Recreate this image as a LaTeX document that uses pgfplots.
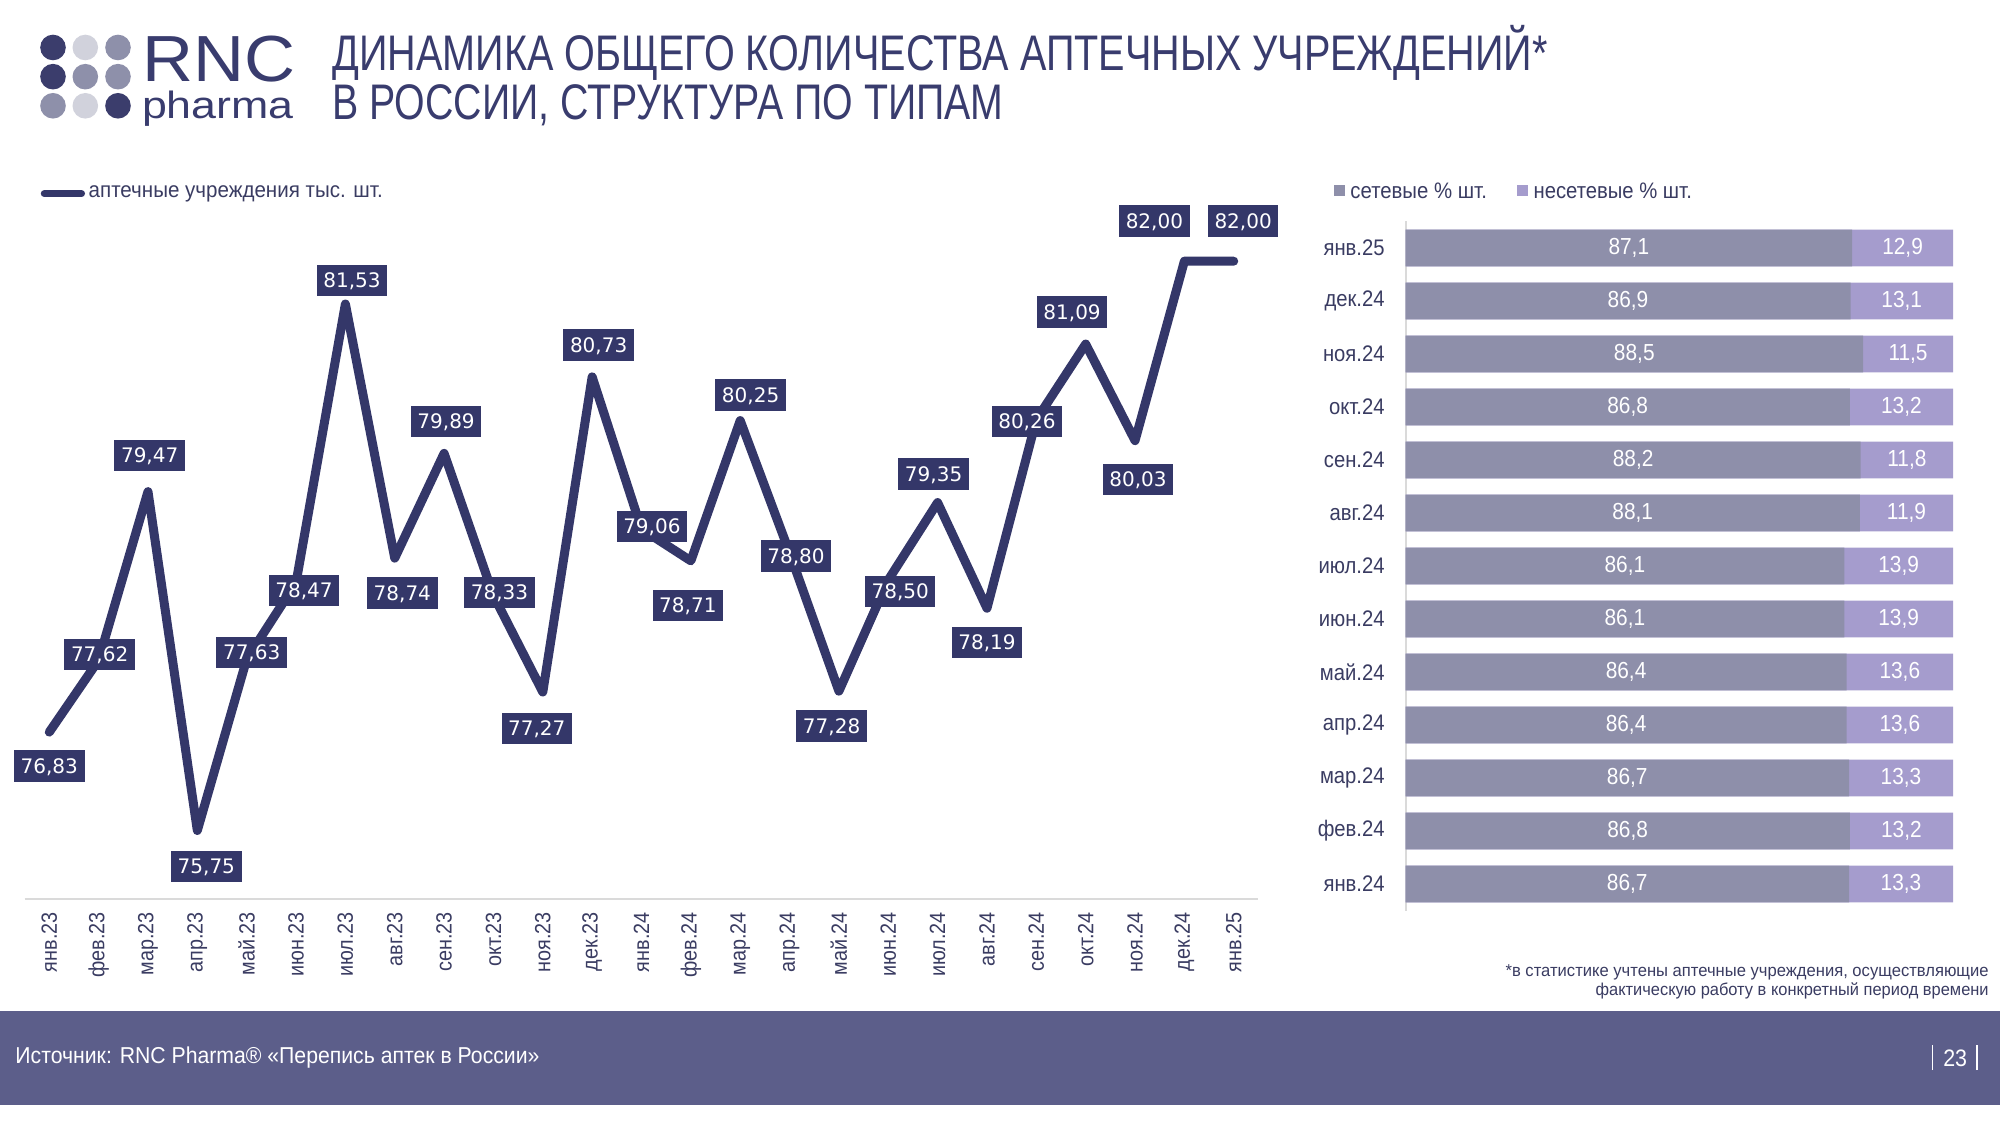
\documentclass[border=0pt]{standalone}
\usepackage{fontspec}
\setmainfont{Liberation Sans}[FakeStretch=0.9]
\newfontfamily\lblfont{DejaVu Sans}
\usepackage{graphicx}
\usepackage{pgfplots}
\pgfplotsset{compat=1.18}
\usepackage{pgfplotstable}

\definecolor{navyline}{HTML}{343769}
\definecolor{titlecol}{HTML}{393C6E}
\definecolor{tickcol}{HTML}{3A3C62}
\definecolor{axisgray}{HTML}{DADADA}
\definecolor{setcol}{HTML}{8E8FAA}
\definecolor{nsetcol}{HTML}{A59CCD}
\definecolor{footcol}{HTML}{5C5E8A}
\definecolor{dotdark}{HTML}{3B3D6C}
\definecolor{dotmid}{HTML}{8E90AA}
\definecolor{dotlight}{HTML}{D1D2DC}

% i, value (thousand), label offsets dx, dy in pt
\pgfplotstableread{
i v dx dy
0 76.83 0 -17
1 77.62 0.5 2.85
2 79.47 0.85 18
3 75.75 4.5 -18
4 77.63 2.5 3.5
5 78.47 4 -4
6 81.53 3.3 11.7
7 78.74 3.8 -17.35
8 79.89 1 16
9 78.33 3 1.5
10 77.27 -3 -18.3
11 80.73 3.25 16
12 79.06 5.2 1.35
13 78.71 -1.5 -22.35
14 80.25 5.2 12.85
15 78.80 3.2 -1.7
16 77.28 -3.65 -17.35
17 78.50 6 -5.7
18 79.35 -2 14.35
19 78.19 0 -17.2
20 80.26 -4.7 -0.8
21 81.09 -6.8 16
22 80.03 1.5 -19.4
23 82.00 -15 20
24 82.00 4.7 20
}\linedata

% i (0 = jan.24 ... 12 = jan.25), chain %, non-chain %
\pgfplotstableread{
i s n
0 86.7 13.3
1 86.8 13.2
2 86.7 13.3
3 86.4 13.6
4 86.4 13.6
5 86.1 13.9
6 86.1 13.9
7 88.1 11.9
8 88.2 11.8
9 86.8 13.2
10 88.5 11.5
11 86.9 13.1
12 87.1 12.9
}\bardata

\begin{document}
\begin{tikzpicture}
\useasboundingbox (0,0) rectangle (1000pt,562.5pt);
\fill[white] (0,0) rectangle (1000pt,562.5pt);

% ---------- logo ----------
\fill[dotdark]  (26.5pt,538.75pt) circle (6.4pt);
\fill[dotlight] (42.65pt,538.75pt) circle (6.4pt);
\fill[dotmid]   (59pt,538.75pt) circle (6.4pt);
\fill[dotdark]  (26.5pt,524.15pt) circle (6.4pt);
\fill[dotmid]   (42.65pt,524.15pt) circle (6.4pt);
\fill[dotmid]   (59pt,524.15pt) circle (6.4pt);
\fill[dotmid]   (26.5pt,509.6pt) circle (6.4pt);
\fill[dotlight] (42.65pt,509.6pt) circle (6.4pt);
\fill[dotdark]  (59pt,509.6pt) circle (6.4pt);
\node[anchor=base west, inner sep=0pt, text=titlecol] at (70.85pt,521.65pt)
  {\resizebox{76.5pt}{\height}{\fontsize{32.6}{32.6}\selectfont RNC}};
\node[anchor=base west, inner sep=0pt, text=titlecol] at (70.85pt,503.3pt)
  {\resizebox{75.8pt}{\height}{\fontsize{19}{19}\selectfont pharma}};

% ---------- title ----------
\node[anchor=base west, inner sep=0pt, text=titlecol] at (166pt,527pt)
  {\resizebox{607.5pt}{\height}{\fontsize{25}{25}\selectfont ДИНАМИКА ОБЩЕГО КОЛИЧЕСТВА АПТЕЧНЫХ УЧРЕЖДЕНИЙ*}};
\node[anchor=base west, inner sep=0pt, text=titlecol] at (166pt,502.5pt)
  {\resizebox{335.5pt}{\height}{\fontsize{25}{25}\selectfont В РОССИИ, СТРУКТУРА ПО ТИПАМ}};

% ---------- line chart ----------
\begin{axis}[
  at={(12.3pt,113.1pt)}, anchor=south west,
  scale only axis, width=616.9pt, height=364.35pt,
  xmin=-0.5, xmax=24.5, ymin=75, ymax=83,
  axis x line=bottom, axis y line=none,
  x axis line style={-, draw=axisgray, line width=1pt},
  xtick={0,...,24},
  xticklabels={янв.23,фев.23,мар.23,апр.23,май.23,июн.23,июл.23,авг.23,сен.23,окт.23,ноя.23,дек.23,янв.24,фев.24,мар.24,апр.24,май.24,июн.24,июл.24,авг.24,сен.24,окт.24,ноя.24,дек.24,янв.25},
  ytick=\empty,
  major tick length=0pt,
  xticklabel style={rotate=90, anchor=east, inner ysep=0pt, inner xsep=6.6pt,
    font=\fontsize{11}{11}\selectfont, text=tickcol},
  clip=false,
]
\addplot[navyline, line width=4.5pt, line join=round, line cap=round,
  point meta=explicit,
  nodes near coords={\pgfmathprintnumber[fixed,fixed zerofill,precision=2,use comma,assume math mode=true]{\pgfplotspointmeta}},
  visualization depends on={\thisrow{dx}\as\dx},
  visualization depends on={\thisrow{dy}\as\dy},
  every node near coord/.style={anchor=center, xshift={\dx*1pt}, yshift={\dy*1pt},
    fill=navyline, text=white, font=\lblfont\fontsize{10}{10}\selectfont,
    inner xsep=3.3pt, inner ysep=4.25pt, text height=7.2pt, text depth=0pt},
] table[x=i, y=v, meta=v] {\linedata};
\end{axis}

% legend of line chart
\draw[navyline, line width=3.65pt, line cap=round] (22.2pt,465.65pt) -- (40.7pt,465.65pt);
\node[anchor=west, inner sep=0pt, text=tickcol] at (44.15pt,465.65pt)
  {\resizebox{147pt}{\height}{\fontsize{11}{11}\selectfont аптечные учреждения тыс. шт.}};

% ---------- bar chart ----------
\begin{axis}[
  at={(702.75pt,107.25pt)}, anchor=south west,
  scale only axis, width=273.75pt, height=344.5pt,
  xmin=30, xmax=100, ymin=-0.5, ymax=12.5,
  axis x line=none, axis y line=left,
  y axis line style={-, draw=axisgray, line width=1pt},
  ytick={0,...,12},
  yticklabels={янв.24,фев.24,мар.24,апр.24,май.24,июн.24,июл.24,авг.24,сен.24,окт.24,ноя.24,дек.24,янв.25},
  xtick=\empty,
  major tick length=0pt,
  yticklabel style={anchor=east, inner sep=0pt, xshift=-10.25pt,
    font=\fontsize{11.25}{11.25}\selectfont, text=tickcol},
]
\addplot[xbar, bar shift=0pt, bar width=18.35pt, fill=nsetcol, draw=none]
  table[x expr={\thisrow{s}+\thisrow{n}}, y=i] {\bardata};
\addplot[xbar, bar shift=0pt, bar width=18.35pt, fill=setcol, draw=none]
  table[x=s, y=i] {\bardata};
\addplot[only marks, mark=*, mark size=0pt, mark options={draw=none, fill=none},
  point meta=explicit,
  nodes near coords={\pgfmathprintnumber[fixed,fixed zerofill,precision=1,use comma,assume math mode=true]{\pgfplotspointmeta}},
  every node near coord/.style={anchor=center, inner sep=0pt, text=white,
    font=\fontsize{11.6}{11.6}\selectfont},
] table[x expr={(\thisrow{s}+30)/2}, y=i, meta=s] {\bardata};
\addplot[only marks, mark=*, mark size=0pt, mark options={draw=none, fill=none},
  point meta=explicit,
  nodes near coords={\pgfmathprintnumber[fixed,fixed zerofill,precision=1,use comma,assume math mode=true]{\pgfplotspointmeta}},
  every node near coord/.style={anchor=center, inner sep=0pt, text=white,
    font=\fontsize{11.6}{11.6}\selectfont},
] table[x expr={\thisrow{s}+\thisrow{n}/2}, y=i, meta=n] {\bardata};
\end{axis}

% legend of bar chart
\fill[setcol] (667pt,464.4pt) rectangle (672.5pt,470.1pt);
\node[anchor=west, inner sep=0pt, text=tickcol] at (675pt,467.25pt)
  {\resizebox{68.25pt}{\height}{\fontsize{11.2}{11.2}\selectfont сетевые \% шт.}};
\fill[nsetcol] (758.35pt,464.4pt) rectangle (763.8pt,470.1pt);
\node[anchor=west, inner sep=0pt, text=tickcol] at (766.6pt,467.25pt)
  {\resizebox{79.15pt}{\height}{\fontsize{11.2}{11.2}\selectfont несетевые \% шт.}};

% ---------- footnote ----------
\node[anchor=base east, inner sep=0pt, text=tickcol] at (994.5pt,74.5pt)
  {\resizebox{241.5pt}{\height}{\fontsize{8.6}{8.6}\selectfont *в статистике учтены аптечные учреждения, осуществляющие}};
\node[anchor=base east, inner sep=0pt, text=tickcol] at (994.5pt,65pt)
  {\resizebox{196.5pt}{\height}{\fontsize{8.6}{8.6}\selectfont фактическую работу в конкретный период времени}};

% ---------- footer ----------
\fill[footcol] (0,10pt) rectangle (1000pt,57pt);
\node[anchor=west, inner sep=0pt, text=white] at (7.5pt,33.5pt)
  {\resizebox{262pt}{\height}{\fontsize{11.5}{11.5}\selectfont Источник: RNC Pharma® «Перепись аптек в России»}};
\node[inner sep=0pt, text=white] at (977.6pt,33.5pt) {\fontsize{11.9}{11.9}\selectfont 23};
\draw[white, line width=0.8pt] (966.25pt,27.5pt) -- (966.25pt,40pt);
\draw[white, line width=0.8pt] (988.5pt,27.5pt) -- (988.5pt,40pt);
\end{tikzpicture}
\end{document}
